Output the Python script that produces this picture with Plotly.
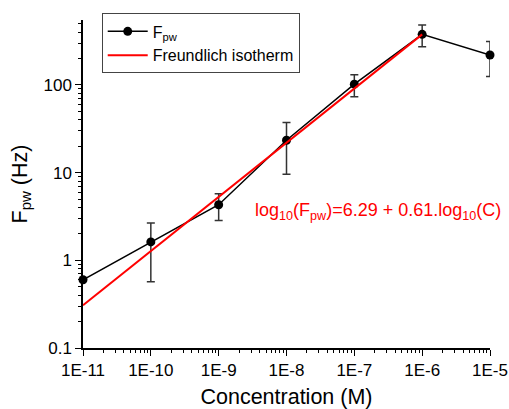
import plotly.graph_objects as go

# ---- data ----
conc = [1e-11, 1e-10, 1e-9, 1e-8, 1e-7, 1e-6, 1e-5]
fpw = [0.60, 1.62, 4.3, 23.4, 102, 377, 219]
fpw_err = [float("nan"), 1.05, 1.45, 13.8, 28.5, 104, 94]

fit_x = [1e-11, 1e-6]
fit_y = [0.307, 377]

x_tick_vals = [1e-11, 1e-10, 1e-9, 1e-8, 1e-7, 1e-6, 1e-5]
x_tick_text = ["1E-11", "1E-10", "1E-9", "1E-8", "1E-7", "1E-6", "1E-5"]
y_tick_vals = [0.1, 1, 10, 100]
y_tick_text = ["0.1", "1", "10", "100"]

FONT = "Arial, Liberation Sans, sans-serif"

x_minor = [m * 10.0 ** e for e in range(-11, -5) for m in range(2, 10)]
y_minor = [m * 10.0 ** e for e in range(-1, 3) for m in range(2, 10)]

fig = go.Figure()

fig.add_trace(go.Scatter(
    x=conc, y=fpw, mode="lines+markers",
    name="F<sub>pw</sub>",
    line=dict(color="black", width=1.5),
    marker=dict(color="black", size=9, symbol="circle"),
    error_y=dict(type="data", array=fpw_err, visible=True,
                 color="#333333", thickness=1.5, width=4),
    cliponaxis=False,
))

fig.add_trace(go.Scatter(
    x=fit_x, y=fit_y, mode="lines",
    name="Freundlich isotherm",
    line=dict(color="#ff0000", width=2),
    cliponaxis=False,
))

fig.add_annotation(
    x=1.032, y=0.5515, xref="paper", yref="y",
    text="log<sub>10</sub>(F<sub>pw</sub>)=6.29 + 0.61.log<sub>10</sub>(C)",
    showarrow=False, font=dict(family=FONT, size=18, color="#ff0000"),
    xanchor="right", yanchor="middle",
)

fig.update_layout(
    width=509, height=409,
    margin=dict(l=83, r=19, t=20, b=61),
    paper_bgcolor="white", plot_bgcolor="white",
    font=dict(family=FONT, size=16, color="black"),
    showlegend=True,
    legend=dict(
        x=0.046, y=1.02, xanchor="left", yanchor="top",
        bgcolor="white", bordercolor="#444444", borderwidth=1,
        font=dict(family=FONT, size=16, color="black"),
        tracegroupgap=0, itemwidth=40,
    ),
    xaxis=dict(
        type="log", range=[-11, -5], automargin=False,
        tickvals=x_tick_vals, ticktext=x_tick_text,
        ticks="outside", ticklen=6, tickwidth=1.2, tickcolor="black",
        showline=True, linecolor="black", linewidth=1.5,
        showgrid=False, zeroline=False,
        tickfont=dict(family=FONT, size=17, color="black"),
        title=dict(text="Concentration (M)", font=dict(family=FONT, size=21.5, color="black"),
                   standoff=13),
        minor=dict(tickvals=x_minor, ticks="outside", ticklen=3, tickcolor="black",
                   tickwidth=1, showgrid=False),
    ),
    yaxis=dict(
        type="log", range=[-1, 2.74], automargin=False,
        tickvals=y_tick_vals, ticktext=y_tick_text,
        ticks="outside", ticklen=6, tickwidth=1.2, tickcolor="black",
        showline=True, linecolor="black", linewidth=1.5,
        showgrid=False, zeroline=False,
        tickfont=dict(family=FONT, size=17, color="black"),
        title=dict(text="F<sub>pw</sub> (Hz)", font=dict(family=FONT, size=21.5, color="black"),
                   standoff=10),
        minor=dict(tickvals=y_minor, ticks="outside", ticklen=3, tickcolor="black",
                   tickwidth=1, showgrid=False),
    ),
)

fig.write_html("out.html", config={"displayModeBar": False},
               post_script="document.body.style.margin='0';")
